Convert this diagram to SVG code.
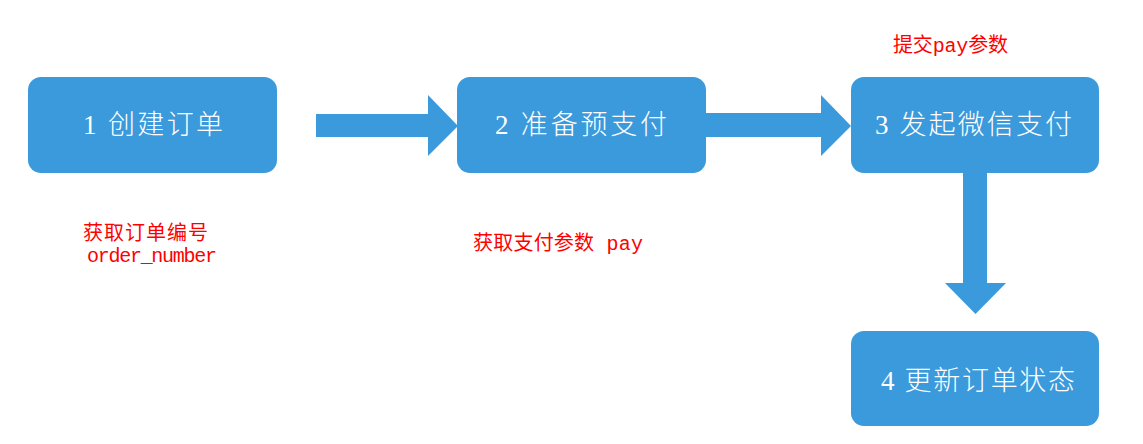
<svg xmlns="http://www.w3.org/2000/svg" width="1143" height="444" viewBox="0 0 1143 444">
<style>
.box{fill:#3A9ADC}
.arr{fill:#3A9ADC}
.lbl{fill:#FFFFFF;font-family:"Liberation Serif","Noto Sans CJK SC",serif;font-size:27px;font-weight:300}
.note{fill:#FF0000;font-family:"Liberation Mono","Noto Sans CJK SC",monospace;font-size:20px}
</style>
<rect width="1143" height="444" fill="#FFFFFF"/>
<g id="connectors">
<polygon class="arr" points="316,114 428,114 428,95 458,126 428,156 428,137 316,137"/>
<polygon class="arr" points="706,113 821,113 821,95 851,126 821,156 821,137 706,137"/>
<polygon class="arr" points="963,173 987,173 987,283 1006,283 975.5,314 945,283 963,283"/>
</g>
<g id="node1">
<rect class="box" x="28" y="77" width="249" height="96" rx="13"/>
<text class="lbl" x="83" y="134" textLength="140" lengthAdjust="spacing">1 创建订单</text>
</g>
<g id="node2">
<rect class="box" x="457" y="77" width="249" height="96" rx="13"/>
<text class="lbl" x="495" y="134" textLength="172" lengthAdjust="spacing">2 准备预支付</text>
</g>
<g id="node3">
<rect class="box" x="851" y="77" width="248" height="96" rx="13"/>
<text class="lbl" x="875" y="134" textLength="197" lengthAdjust="spacing">3 发起微信支付</text>
</g>
<g id="node4">
<rect class="box" x="851" y="331" width="248" height="95" rx="13"/>
<text class="lbl" x="881" y="390" textLength="194" lengthAdjust="spacing">4 更新订单状态</text>
</g>
<g id="notes">
<text class="note" x="893" y="52" textLength="115" lengthAdjust="spacing">提交pay参数</text>
<text class="note" x="83" y="240" textLength="125" lengthAdjust="spacing">获取订单编号</text>
<text class="note" x="87" y="262" textLength="130" lengthAdjust="spacing" font-size="18">order_number</text>
<text class="note" x="473" y="250" textLength="170" lengthAdjust="spacing">获取支付参数 pay</text>
</g>
</svg>
